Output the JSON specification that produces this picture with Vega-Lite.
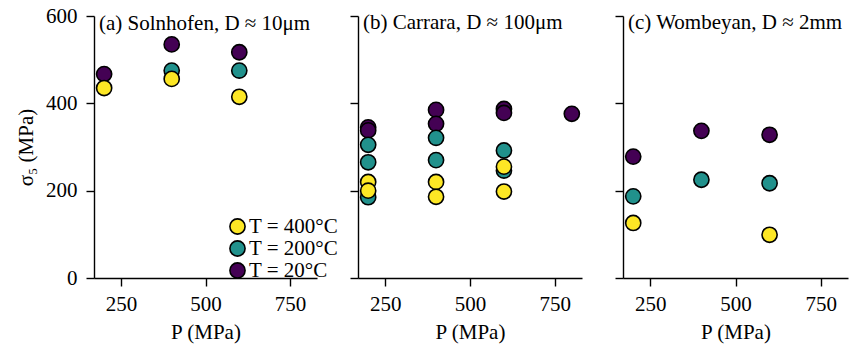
{
  "$schema": "https://vega.github.io/schema/vega-lite/v6.json",
  "background": "white",
  "padding": {"left": 15, "top": 5, "right": 2, "bottom": 2},
  "bounds": "flush",
  "spacing": 41,
  "config": {
    "font": "Liberation Serif",
    "view": {"stroke": null},
    "axis": {
      "grid": false,
      "domainColor": "black",
      "tickColor": "black",
      "labelColor": "black",
      "titleColor": "black",
      "labelFont": "Liberation Serif",
      "titleFont": "Liberation Serif",
      "labelFontSize": 21,
      "titleFontSize": 21,
      "titleFontWeight": "normal",
      "tickSize": 8,
      "domainWidth": 1.4,
      "tickWidth": 1.4
    },
    "axisX": {"labelPadding": 7, "titlePadding": 7},
    "axisY": {"labelPadding": 9, "titlePadding": 9},
    "title": {"font": "Liberation Serif", "fontSize": 21, "fontWeight": "normal", "color": "black", "anchor": "start", "frame": "group", "offset": -18, "dx": 5}
  },
  "resolve": {"legend": {"color": "independent"}},
  "data": {"values": [
    {"rock": "Solnhofen", "P": 200, "sigma": 467, "T": "T = 20°C"},
    {"rock": "Solnhofen", "P": 400, "sigma": 535, "T": "T = 20°C"},
    {"rock": "Solnhofen", "P": 600, "sigma": 517, "T": "T = 20°C"},
    {"rock": "Solnhofen", "P": 400, "sigma": 475, "T": "T = 200°C"},
    {"rock": "Solnhofen", "P": 600, "sigma": 475, "T": "T = 200°C"},
    {"rock": "Solnhofen", "P": 200, "sigma": 435, "T": "T = 400°C"},
    {"rock": "Solnhofen", "P": 400, "sigma": 456, "T": "T = 400°C"},
    {"rock": "Solnhofen", "P": 600, "sigma": 415, "T": "T = 400°C"},
    {"rock": "Carrara", "P": 200, "sigma": 345, "T": "T = 20°C"},
    {"rock": "Carrara", "P": 200, "sigma": 338, "T": "T = 20°C"},
    {"rock": "Carrara", "P": 400, "sigma": 385, "T": "T = 20°C"},
    {"rock": "Carrara", "P": 400, "sigma": 353, "T": "T = 20°C"},
    {"rock": "Carrara", "P": 600, "sigma": 387, "T": "T = 20°C"},
    {"rock": "Carrara", "P": 600, "sigma": 378, "T": "T = 20°C"},
    {"rock": "Carrara", "P": 800, "sigma": 376, "T": "T = 20°C"},
    {"rock": "Carrara", "P": 200, "sigma": 305, "T": "T = 200°C"},
    {"rock": "Carrara", "P": 200, "sigma": 265, "T": "T = 200°C"},
    {"rock": "Carrara", "P": 200, "sigma": 185, "T": "T = 200°C"},
    {"rock": "Carrara", "P": 400, "sigma": 321, "T": "T = 200°C"},
    {"rock": "Carrara", "P": 400, "sigma": 270, "T": "T = 200°C"},
    {"rock": "Carrara", "P": 600, "sigma": 292, "T": "T = 200°C"},
    {"rock": "Carrara", "P": 600, "sigma": 246, "T": "T = 200°C"},
    {"rock": "Carrara", "P": 200, "sigma": 220, "T": "T = 400°C"},
    {"rock": "Carrara", "P": 200, "sigma": 200, "T": "T = 400°C"},
    {"rock": "Carrara", "P": 400, "sigma": 220, "T": "T = 400°C"},
    {"rock": "Carrara", "P": 400, "sigma": 186, "T": "T = 400°C"},
    {"rock": "Carrara", "P": 600, "sigma": 255, "T": "T = 400°C"},
    {"rock": "Carrara", "P": 600, "sigma": 198, "T": "T = 400°C"},
    {"rock": "Wombeyan", "P": 200, "sigma": 278, "T": "T = 20°C"},
    {"rock": "Wombeyan", "P": 400, "sigma": 337, "T": "T = 20°C"},
    {"rock": "Wombeyan", "P": 600, "sigma": 328, "T": "T = 20°C"},
    {"rock": "Wombeyan", "P": 200, "sigma": 187, "T": "T = 200°C"},
    {"rock": "Wombeyan", "P": 400, "sigma": 225, "T": "T = 200°C"},
    {"rock": "Wombeyan", "P": 600, "sigma": 217, "T": "T = 200°C"},
    {"rock": "Wombeyan", "P": 200, "sigma": 126, "T": "T = 400°C"},
    {"rock": "Wombeyan", "P": 600, "sigma": 99, "T": "T = 400°C"}
  ]},
  "hconcat": [
    {
      "width": 223, "height": 262,
      "title": {"text": "(a) Solnhofen, D ≈ 10μm", "offset": -29},
      "transform": [{"filter": "datum.rock === 'Solnhofen'"}],
      "mark": {"type": "circle", "size": 230, "stroke": "black", "strokeWidth": 1.6, "opacity": 1},
      "encoding": {
        "x": {"field": "P", "type": "quantitative", "scale": {"domain": [170, 830], "nice": false}, "axis": {"values": [250, 500, 750], "title": "P (MPa)"}},
        "y": {"field": "sigma", "type": "quantitative", "scale": {"domain": [0, 600], "nice": false}, "axis": {"values": [0, 200, 400, 600], "title": "σ₅ (MPa)"}},
        "color": {"field": "T", "type": "nominal",
          "scale": {"domain": ["T = 400°C", "T = 200°C", "T = 20°C"], "range": ["#fde725", "#21918c", "#440154"]},
          "legend": {"title": null, "orient": "none", "legendX": 133, "legendY": 200, "labelFont": "Liberation Serif", "labelFontSize": 21, "labelColor": "black", "symbolType": "circle", "symbolSize": 230, "symbolStrokeColor": "black", "symbolStrokeWidth": 1.6, "symbolOpacity": 1, "rowPadding": -1.5, "labelOffset": 1, "padding": 0}}
      }
    },
    {
      "width": 224, "height": 262,
      "title": {"text": "(b) Carrara, D ≈ 100μm"},
      "transform": [{"filter": "datum.rock === 'Carrara'"}],
      "mark": {"type": "circle", "size": 230, "stroke": "black", "strokeWidth": 1.6, "opacity": 1},
      "encoding": {
        "x": {"field": "P", "type": "quantitative", "scale": {"domain": [170, 830], "nice": false}, "axis": {"values": [250, 500, 750], "title": "P (MPa)"}},
        "y": {"field": "sigma", "type": "quantitative", "scale": {"domain": [0, 600], "nice": false}, "axis": {"values": [0, 200, 400, 600], "title": null, "labels": false}},
        "color": {"field": "T", "type": "nominal",
          "scale": {"domain": ["T = 400°C", "T = 200°C", "T = 20°C"], "range": ["#fde725", "#21918c", "#440154"]},
          "legend": null}
      }
    },
    {
      "width": 225, "height": 262,
      "title": {"text": "(c) Wombeyan, D ≈ 2mm"},
      "transform": [{"filter": "datum.rock === 'Wombeyan'"}],
      "mark": {"type": "circle", "size": 230, "stroke": "black", "strokeWidth": 1.6, "opacity": 1},
      "encoding": {
        "x": {"field": "P", "type": "quantitative", "scale": {"domain": [170, 830], "nice": false}, "axis": {"values": [250, 500, 750], "title": "P (MPa)"}},
        "y": {"field": "sigma", "type": "quantitative", "scale": {"domain": [0, 600], "nice": false}, "axis": {"values": [0, 200, 400, 600], "title": null, "labels": false}},
        "color": {"field": "T", "type": "nominal",
          "scale": {"domain": ["T = 400°C", "T = 200°C", "T = 20°C"], "range": ["#fde725", "#21918c", "#440154"]},
          "legend": null}
      }
    }
  ]
}
